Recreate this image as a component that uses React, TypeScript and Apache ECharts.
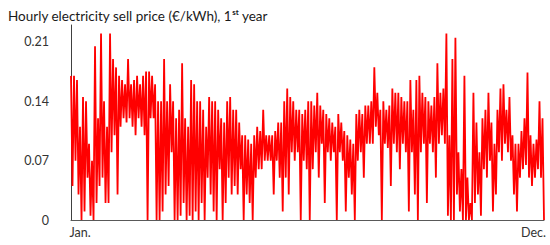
import React, { useEffect, useRef } from "react";
import * as echarts from "echarts";

// Envelope of the hourly price (€/kWh), left to right:
// for each slice of the year, the upper and lower value reached.
const highs: number[] = [
  0.17, 0.17, 0.165, 0.11, 0.145, 0.14, 0.09, 0.07, 0.205, 0.12, 0.22, 0.14, 0.11, 0.22, 0.19, 0.18, 0.17, 0.165, 0.16, 0.19, 0.16, 0.165, 0.17, 0.16, 0.17, 0.175,
  0.175, 0.17, 0.16, 0.14, 0.14, 0.19, 0.14, 0.16, 0.14, 0.12, 0.13, 0.185, 0.12, 0.11, 0.165, 0.16, 0.14, 0.14, 0.13, 0.11, 0.145, 0.14, 0.14, 0.13, 0.12, 0.115, 0.14,
  0.145, 0.13, 0.13, 0.115, 0.1, 0.1, 0.095, 0.09, 0.1, 0.11, 0.105, 0.13, 0.1, 0.1, 0.1, 0.105, 0.115, 0.115, 0.14, 0.155, 0.145, 0.14, 0.13, 0.13, 0.125, 0.13, 0.14,
  0.14, 0.135, 0.15, 0.135, 0.13, 0.125, 0.12, 0.115, 0.11, 0.125, 0.115, 0.105, 0.1, 0.095, 0.09, 0.125, 0.13, 0.125, 0.135, 0.135, 0.14, 0.18, 0.15, 0.13, 0.14, 0.13,
  0.135, 0.155, 0.15, 0.15, 0.145, 0.14, 0.14, 0.165, 0.13, 0.165, 0.17, 0.15, 0.145, 0.14, 0.135, 0.145, 0.185, 0.15, 0.155, 0.22, 0.1, 0.19, 0.215, 0.08, 0.06, 0.17, 0.05,
  0.02, 0.15, 0.115, 0.08, 0.12, 0.13, 0.15, 0.115, 0.09, 0.13, 0.155, 0.16, 0.13, 0.145, 0.1, 0.09, 0.09, 0.105, 0.12, 0.174, 0.1, 0.09, 0.095, 0.14, 0.12,
];
const lows: number[] = [
  0.04, 0.07, 0.03, 0.0, 0.01, 0.05, 0.005, 0.0, 0.02, 0.04, 0.05, 0.02, 0.02, 0.08, 0.1, 0.03, 0.11, 0.12, 0.115, 0.12, 0.11, 0.1, 0.12, 0.11, 0.1, 0.0,
  0.12, 0.12, 0.0, 0.0, 0.01, 0.03, 0.04, 0.08, 0.0, 0.0, 0.005, 0.02, 0.0, 0.005, 0.0, 0.01, 0.0, 0.02, 0.0, 0.05, 0.03, 0.01, 0.0, 0.06, 0.0, 0.02, 0.05,
  0.03, 0.04, 0.03, 0.06, 0.0, 0.03, 0.02, 0.0, 0.05, 0.06, 0.06, 0.07, 0.07, 0.07, 0.03, 0.07, 0.05, 0.01, 0.05, 0.03, 0.08, 0.07, 0.08, 0.0, 0.07, 0.06, 0.0,
  0.06, 0.08, 0.05, 0.09, 0.02, 0.08, 0.07, 0.08, 0.0, 0.08, 0.07, 0.01, 0.05, 0.03, 0.0, 0.07, 0.08, 0.05, 0.09, 0.09, 0.09, 0.11, 0.1, 0.0, 0.09, 0.085,
  0.04, 0.09, 0.08, 0.06, 0.09, 0.08, 0.01, 0.08, 0.03, 0.0, 0.08, 0.09, 0.02, 0.09, 0.08, 0.05, 0.09, 0.1, 0.09, 0.005, 0.0, 0.0, 0.03, 0.01, 0.0, 0.0, 0.0,
  0.0, 0.02, 0.03, 0.005, 0.06, 0.05, 0.07, 0.01, 0.03, 0.08, 0.07, 0.09, 0.08, 0.07, 0.03, 0.01, 0.05, 0.06, 0.065, 0.05, 0.04, 0.05, 0.06, 0.05, 0.0,
];
const monthLabels = ["Jan.", "Dec."];
const yTicks = [0, 0.07, 0.14, 0.21];

const prices: number[] = [];
highs.forEach((h, i) => {
  prices.push(h, lows[i]);
});

export default function App() {
  const ref = useRef<HTMLDivElement>(null);
  useEffect(() => {
    if (!ref.current) return;
    const chart = echarts.init(ref.current, null, { renderer: "svg" });
    const n = prices.length;
    const janIdx = Math.round(0.018 * (n - 1));
    const decIdx = Math.round(0.978 * (n - 1));
    const cats = prices.map((_, i) =>
      i === janIdx ? monthLabels[0] : i === decIdx ? monthLabels[1] : ""
    );
    const font = "Lato, 'Liberation Sans', sans-serif";
    chart.setOption({
      animation: false,
      title: {
        left: 3,
        top: 3,
        text: "{a|Hourly electricity sell price (€/kWh), 1}{s|st}{a| year}",
        textStyle: {
          rich: {
            a: { fontFamily: font, fontSize: 13.5, color: "#1a1a1a", lineHeight: 16, fontWeight: "normal" },
            s: { fontFamily: font, fontSize: 8, color: "#1a1a1a", verticalAlign: "top", lineHeight: 16, padding: [0, 0, 6, 0] },
          },
        },
      },
      grid: { left: 71, right: 6, top: 25, bottom: 25 },
      xAxis: {
        type: "category",
        data: cats,
        boundaryGap: false,
        axisLine: { lineStyle: { color: "#595959", width: 1 } },
        axisTick: { show: false },
        axisLabel: {
          interval: (i: number) => i === janIdx || i === decIdx,
          color: "#333",
          fontFamily: font,
          fontSize: 12.5,
          margin: 6,
        },
        splitLine: { show: false },
      },
      yAxis: {
        type: "value",
        min: yTicks[0],
        max: 0.23,
        interval: yTicks[1] - yTicks[0],
        axisLine: { show: true, lineStyle: { color: "#404040", width: 1 } },
        axisTick: { show: false },
        splitLine: { show: false },
        axisLabel: {
          showMaxLabel: false,
          color: "#333",
          fontFamily: font,
          fontSize: 12.5,
          margin: 22,
          formatter: (v: number) => {
            const t = yTicks.find((y) => Math.abs(y - v) < 1e-6);
            return t === undefined ? "" : String(t);
          },
        },
      },
      series: [
        {
          type: "line",
          data: prices,
          showSymbol: false,
          symbol: "none",
          lineStyle: { color: "#ff0000", width: 1.8 },
        },
      ],
    });
    return () => chart.dispose();
  }, []);
  return (
    <div
      ref={ref}
      style={{ position: "absolute", left: 0, top: 0, width: 550, height: 245 }}
    />
  );
}
